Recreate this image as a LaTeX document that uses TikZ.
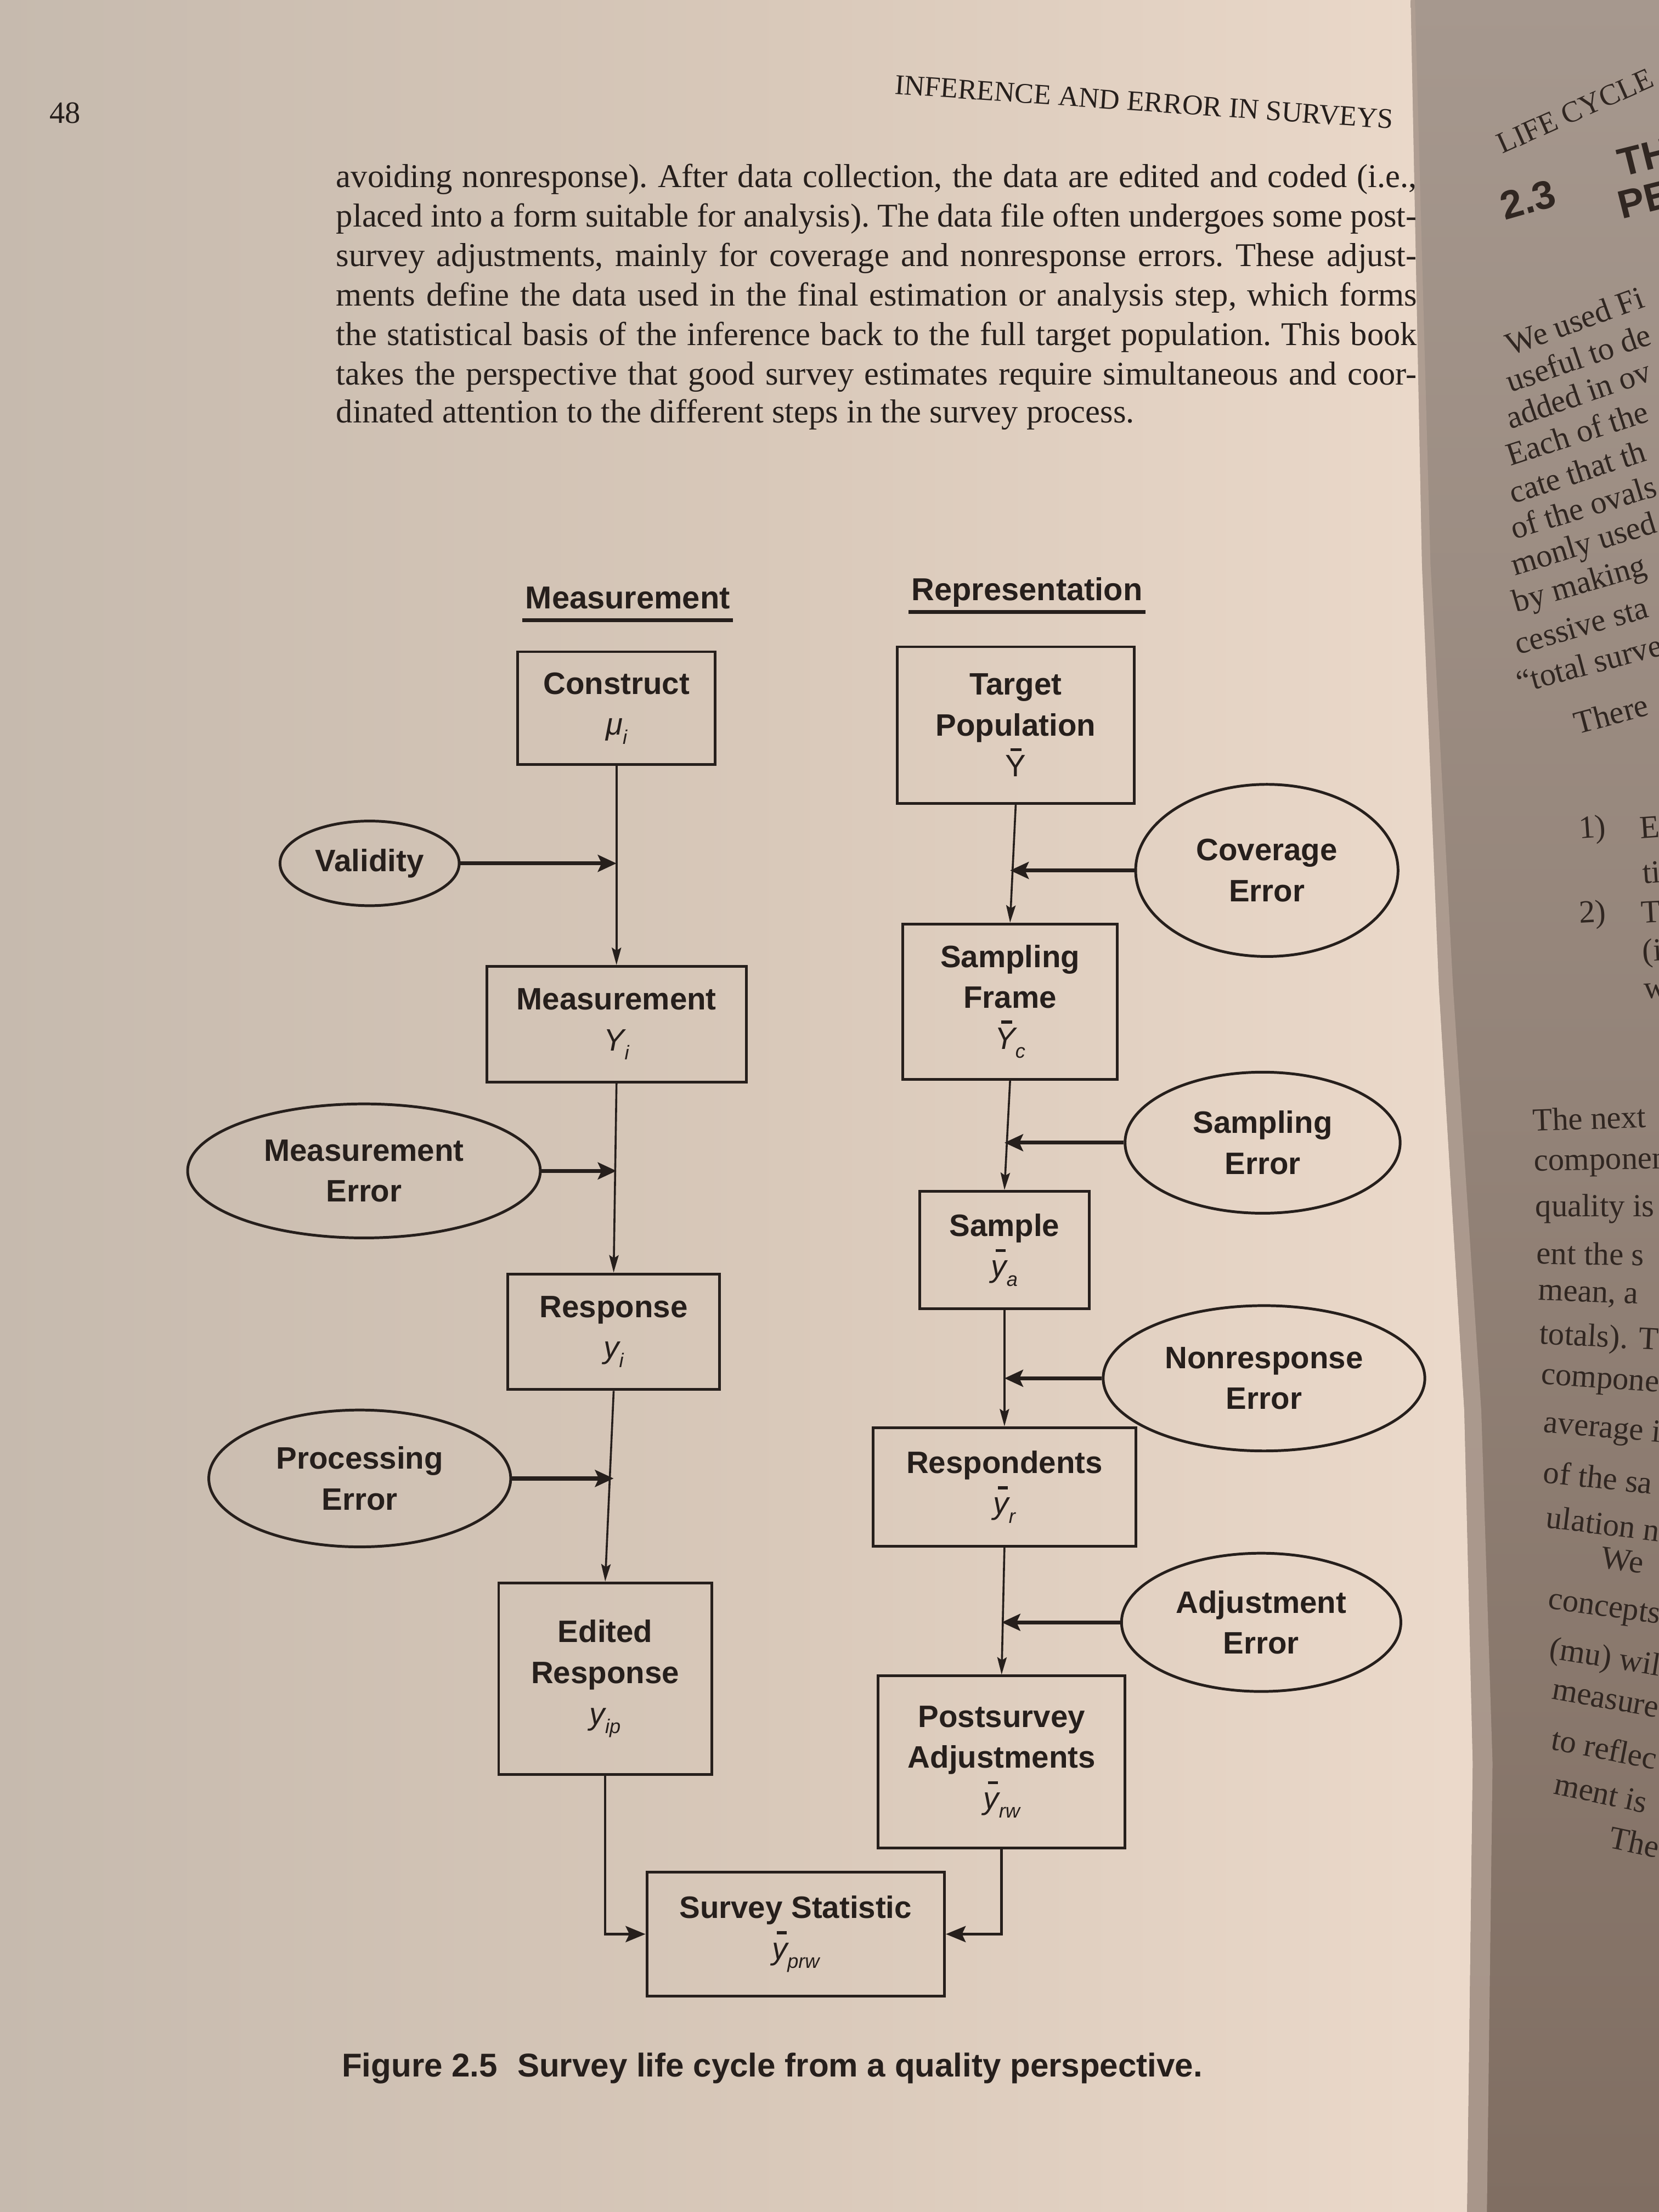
\documentclass[tikz,border=0pt]{standalone}
\usepackage{fontspec}
\setmainfont{Liberation Serif}
\newfontfamily\diag{Liberation Sans}
\usetikzlibrary{arrows.meta,shapes.geometric,calc}
\definecolor{ink}{RGB}{38,31,28}
\definecolor{pageL}{RGB}{198,186,174}
\definecolor{pageM}{RGB}{216,200,185}
\definecolor{pageR}{RGB}{236,218,203}
\definecolor{rpageT}{RGB}{166,152,142}
\definecolor{rpageB}{RGB}{128,110,98}
\definecolor{fold}{RGB}{178,160,148}
\definecolor{rink}{RGB}{48,38,33}
\newcommand{\dfont}{\diag\bfseries\fontsize{12.5}{16.5}\selectfont}
\newcommand{\lowsub}[1]{\raisebox{-0.55ex}{\fontsize{8}{8}\selectfont\mdseries\itshape #1}}
\newcommand{\mi}[1]{{\mdseries\itshape #1}}
\newcommand{\barY}[1]{\rlap{\kern0.2em\raisebox{0.82em}{\rule{0.36em}{0.1em}}}\mi{#1}}
\newcommand{\barU}[1]{\rlap{\kern0.16em\raisebox{0.82em}{\rule{0.36em}{0.1em}}}{\mdseries #1}}
\newcommand{\bary}{\rlap{\kern0.15em\raisebox{0.80em}{\rule{0.32em}{0.1em}}}\mi{y}}
\newcommand{\rt}[5]{\node[rtxt,rotate=#4] (#1) at (#2,#3) {#5};}
\tikzset{
  box/.style 2 args={draw=ink, line width=1.1pt, rectangle, inner sep=0pt, align=center,
    text=ink, font=\dfont, minimum width=#1*0.02cm, minimum height=#2*0.02cm},
  oval/.style 2 args={draw=ink, line width=1.1pt, ellipse, inner sep=0pt, align=center,
    text=ink, font=\dfont, minimum width=#1*0.02cm, minimum height=#2*0.02cm},
  flow/.style={draw=ink, line width=0.8pt, -{Stealth[length=7pt,width=3.8pt,inset=1.2pt]}},
  errarrow/.style={draw=ink, line width=1.6pt, -{Stealth[length=7.5pt,width=6.8pt,inset=1.5pt]}},
  endarrow/.style={draw=ink, line width=1.0pt, -{Stealth[length=8pt,width=6.5pt,inset=1.5pt]}},
  heading/.style={inner sep=0pt, text=ink, font=\diag\bfseries\fontsize{12.8}{15}\selectfont},
  uline/.style={draw=ink, line width=1.6pt},
  bodyline/.style={anchor=west, inner sep=0pt, text=ink, font=\frenchspacing\fontsize{13.4}{16}\selectfont},
  rtxt/.style={anchor=west, inner sep=0pt, text=rink, font=\fontsize{13}{14}\selectfont},
}
\begin{document}
\begin{tikzpicture}[x=0.02cm,y=-0.02cm]
\useasboundingbox (0,0) rectangle (1176,1568);
% ---------- background pages ----------
\shade[left color=pageL, right color=pageR, middle color=pageM] (0,0) rectangle (1060,1568);
\shade[top color=rpageT, bottom color=rpageB]
  (1000,0) -- (1008,400) -- (1020,700) -- (1038,1000) -- (1044,1250) -- (1040,1568)
  -- (1176,1568) -- (1176,0) -- cycle;
\fill[fold, opacity=0.8]
  (1000,0) -- (1008,400) -- (1020,700) -- (1038,1000) -- (1044,1250) -- (1040,1568)
  -- (1054,1568) -- (1058,1250) -- (1050,1000) -- (1030,700) -- (1014,400) -- (1003,0) -- cycle;
% ---------- right page fragments ----------
\begin{scope}
\clip (1003,0) -- (1014,400) -- (1030,700) -- (1050,1000) -- (1058,1250) -- (1054,1568)
  -- (1176,1568) -- (1176,0) -- cycle;
\rt{r0}{1062}{103}{24}{\fontsize{12}{14}\selectfont LIFE CYCLE}
\rt{r1}{1064}{147}{16}{\diag\bfseries\fontsize{16}{18}\selectfont 2.3}
\rt{r2}{1147}{116}{14}{\diag\bfseries\fontsize{16}{18}\selectfont TH}
\rt{r3}{1147}{146}{14}{\diag\bfseries\fontsize{16}{18}\selectfont PE}
\rt{r4}{1068}{245}{20}{We used Fi}
\rt{r5}{1068}{271}{19}{useful to de}
\rt{r6}{1068}{297}{19}{added in ov}
\rt{r7}{1068}{323}{18}{Each of the}
\rt{r8}{1070}{350}{18}{cate that th}
\rt{r9}{1071}{375}{17}{of the ovals}
\rt{r10}{1072}{403}{17}{monly used}
\rt{r11}{1073}{429}{16}{by making}
\rt{r12}{1074}{457}{16}{cessive sta}
\rt{r13}{1075}{484}{15}{``total surve}
\rt{r14}{1116}{513}{15}{There}
\rt{r15}{1119}{589}{4}{1)}
\rt{r16}{1162}{587}{4}{E}
\rt{r17}{1164}{619}{4}{ti}
\rt{r18}{1119}{649}{3}{2)}
\rt{r19}{1163}{647}{3}{T}
\rt{r20}{1164}{676}{3}{(i}
\rt{r21}{1165}{703}{3}{w}
\rt{r22}{1086}{794}{2}{The next}
\rt{r23}{1087}{827}{1}{componen}
\rt{r24}{1088}{857}{0}{quality is}
\rt{r25}{1089}{888}{-1}{ent the s}
\rt{r26}{1090}{918}{-2}{mean, a}
\rt{r27}{1091}{947}{-3}{totals). T}
\rt{r28}{1092}{978}{-4}{compone}
\rt{r29}{1094}{1010}{-5}{average i}
\rt{r30}{1094}{1043}{-6}{of the sa}
\rt{r31}{1096}{1075}{-7}{ulation n}
\rt{r32}{1135}{1104}{-8}{We}
\rt{r33}{1097}{1136}{-8}{concepts}
\rt{r34}{1098}{1170}{-9}{(mu) wil}
\rt{r35}{1100}{1199}{-10}{measure}
\rt{r36}{1100}{1232}{-11}{to reflec}
\rt{r37}{1102}{1264}{-12}{ment is}
\rt{r38}{1141}{1302}{-12}{The}
\end{scope}
% ---------- page furniture ----------
\node[inner sep=0pt, text=ink, font=\fontsize{12.5}{14}\selectfont] (pnum) at (46,80) {48};
\node[anchor=west, inner sep=0pt, text=ink, font=\fontsize{11.5}{14}\selectfont, rotate=-4] (head) at (634,60) {INFERENCE AND ERROR IN SURVEYS};
\node[bodyline] (b1) at (238,127) {\makebox[436pt][s]{avoiding nonresponse). After data collection, the data are edited and coded (i.e.,}};
\node[bodyline] (b2) at (238,155) {\makebox[436pt][s]{placed into a form suitable for analysis). The data file often undergoes some post-}};
\node[bodyline] (b3) at (238,183) {\makebox[436pt][s]{survey adjustments, mainly for coverage and nonresponse errors. These adjust-}};
\node[bodyline] (b4) at (238,211) {\makebox[436pt][s]{ments define the data used in the final estimation or analysis step, which forms}};
\node[bodyline] (b5) at (238,239) {\makebox[436pt][s]{the statistical basis of the inference back to the full target population. This book}};
\node[bodyline] (b6) at (238,267) {\makebox[436pt][s]{takes the perspective that good survey estimates require simultaneous and coor-}};
\node[bodyline] (b7) at (238,294) {dinated attention to the different steps in the survey process.};
% ---------- headings ----------
\node[heading] (hm) at (445,424) {Measurement};
\node[heading] (hr) at (728,420) {Representation};
\draw[uline] ([yshift=-4.5pt,xshift=-1pt]hm.base west) -- ([yshift=-4.5pt,xshift=1pt]hm.base east);
\draw[uline] ([yshift=-4.5pt,xshift=-1pt]hr.base west) -- ([yshift=-4.5pt,xshift=1pt]hr.base east);
% ---------- boxes ----------
\node[box={140}{80}] (cons) at (437,502) {Construct\\\mi{μ}\lowsub{i}};
\node[box={184}{82}] (meas) at (437,726) {Measurement\\\mi{Y}\lowsub{i}};
\node[box={150}{82}] (resp) at (435,944) {Response\\\mi{y}\lowsub{i}};
\node[box={151}{136}] (edit) at (429,1190) {Edited\\Response\\\mi{y}\lowsub{ip}};
\node[box={168}{111}] (targ) at (720,514) {Target\\Population\\\barU{Y}};
\node[box={152}{110}] (frame) at (716,710) {Sampling\\Frame\\\barY{Y}\lowsub{c}};
\node[box={120}{83}] (samp) at (712,886) {Sample\\\bary\lowsub{a}};
\node[box={186}{84}] (resps) at (712,1054) {Respondents\\\bary\lowsub{r}};
\node[box={175}{122}] (post) at (710,1249) {Postsurvey\\Adjustments\\\bary\lowsub{rw}};
\node[box={211}{88}] (stat) at (564,1371) {Survey Statistic\\\bary\lowsub{prw}};
% ---------- ovals ----------
\node[oval={127}{60}] (val) at (262,612) {Validity};
\node[oval={250}{95}] (merr) at (258,830) {Measurement\\Error};
\node[oval={214}{97}] (perr) at (255,1048) {Processing\\Error};
\node[oval={186}{122}] (cov) at (898,617) {Coverage\\Error};
\node[oval={195}{100}] (serr) at (895,810) {Sampling\\Error};
\node[oval={228}{103}] (nerr) at (896,977) {Nonresponse\\Error};
\node[oval={198}{98}] (aerr) at (894,1150) {Adjustment\\Error};
% ---------- flow ----------
\draw[flow] (cons.south) -- (meas.north);
\draw[flow] (meas.south) -- (resp.north);
\draw[flow] (resp.south) -- (edit.north);
\draw[flow] (targ.south) -- (frame.north);
\draw[flow] (frame.south) -- (samp.north);
\draw[flow] (samp.south) -- (resps.north);
\draw[flow] (resps.south) -- (post.north);
\draw[endarrow] (edit.south) |- (stat.west);
\draw[endarrow] (post.south) |- (stat.east);
% ---------- error arrows ----------
\draw[errarrow] (val.east) -- (val.east -| cons.south);
\draw[errarrow] (merr.east) -- (merr.east -| meas.south);
\draw[errarrow] (perr.east) -- (perr.east -| resp.south);
\draw[errarrow] (cov.west) -- (cov.west -| frame.north);
\draw[errarrow] (serr.west) -- (serr.west -| samp.north);
\draw[errarrow] (nerr.west) -- (nerr.west -| resps.north);
\draw[errarrow] (aerr.west) -- (aerr.west -| post.north);
% ---------- caption ----------
\node[anchor=west, inner sep=0pt, text=ink, font=\diag\bfseries\fontsize{13.3}{15}\selectfont] (cap) at (242,1466) {Figure 2.5\hspace{0.6em}Survey life cycle from a quality perspective.};
\end{tikzpicture}
\end{document}
